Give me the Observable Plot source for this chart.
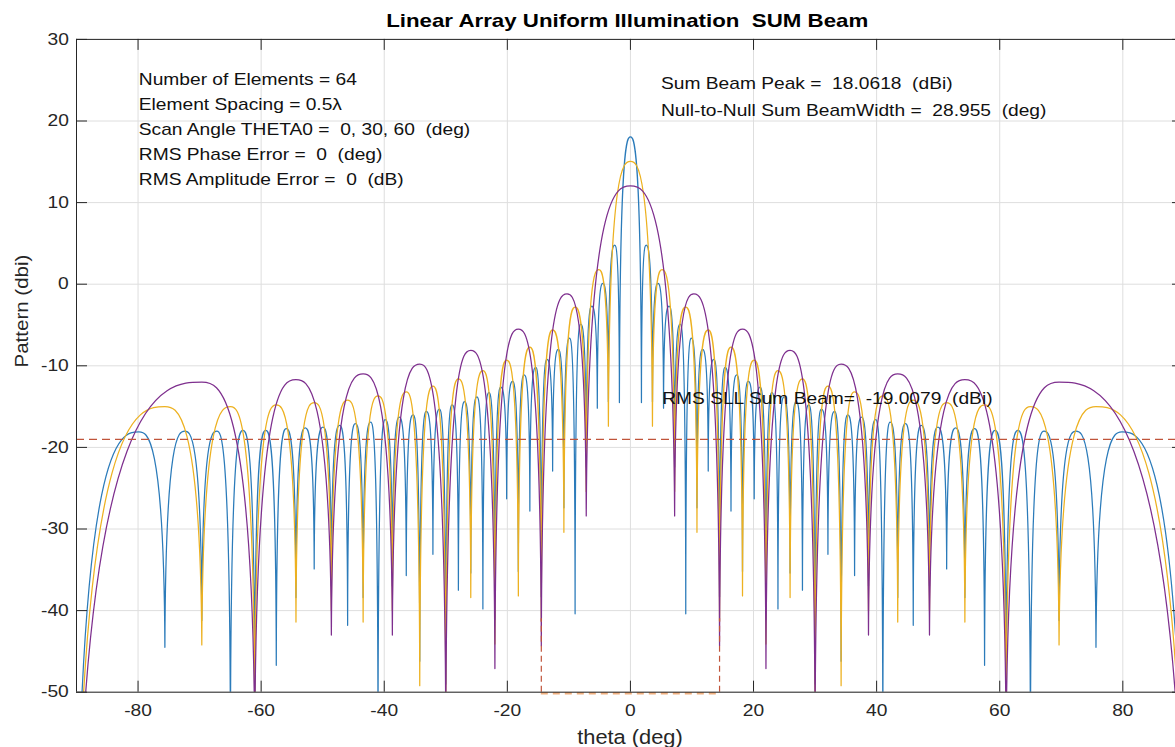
<!DOCTYPE html>
<html><head><meta charset="utf-8">
<script src="https://cdn.jsdelivr.net/npm/d3@7"></script>
<script src="https://cdn.jsdelivr.net/npm/@observablehq/plot@0.6"></script>
<style>html,body{margin:0;padding:0;background:#fff;} #chart svg{display:block;}</style>
</head><body><div id="chart"></div>
<script>
// ---- tick values ----
const xTicks = [-80, -60, -40, -20, 0, 20, 40, 60, 80];
const yTicks = [-50, -40, -30, -20, -10, 0, 10, 20, 30];

// ---- 64 elements (blue): alternating null / lobe peak ----
const blueTheta = [-90, -79.86, -75.64, -72.40, -69.64, -67.21, -64.99, -62.96, -61.04, -59.25, -57.54, -55.91, -54.34, -52.84, -51.38, -49.96, -48.59, -47.25, -45.95, -44.68, -43.43, -42.21, -41.01, -39.84, -38.68, -37.55, -36.42, -35.32, -34.23, -33.15, -32.09, -31.04, -30.00, -28.97, -27.95, -26.94, -25.94, -24.95, -23.97, -22.99, -22.02, -21.06, -20.11, -19.15, -18.21, -17.27, -16.34, -15.40, -14.48, -13.55, -12.64, -11.72, -10.81, -9.90, -8.99, -8.08, -7.18, -6.28, -5.38, -4.48, -3.58, -2.56, -1.79, 0, 1.79, 2.56, 3.58, 4.48, 5.38, 6.28, 7.18, 8.08, 8.99, 9.90, 10.81, 11.72, 12.64, 13.55, 14.48, 15.40, 16.34, 17.27, 18.21, 19.15, 20.11, 21.06, 22.02, 22.99, 23.97, 24.95, 25.94, 26.94, 27.95, 28.97, 30.00, 31.04, 32.09, 33.15, 34.23, 35.32, 36.42, 37.55, 38.68, 39.84, 41.01, 42.21, 43.43, 44.68, 45.95, 47.25, 48.59, 49.96, 51.38, 52.84, 54.34, 55.91, 57.54, 59.25, 61.04, 62.96, 64.99, 67.21, 69.64, 72.40, 75.64, 79.86, 90];
const blueDb = [-80, -18.1, -44.5, -18.0, -41.2, -18.0, -56, -17.9, -50, -17.9, -46.7, -17.7, -38.4, -17.6, -34.9, -17.5, -37.0, -17.3, -41.8, -17.1, -38.4, -16.9, -56, -16.6, -37.0, -16.3, -35.7, -16.0, -46.2, -15.6, -33.1, -15.3, -49, -14.8, -37.5, -14.4, -35.4, -13.8, -39.8, -13.3, -41.1, -12.6, -26.3, -11.9, -35.2, -11.1, -27.8, -10.2, -38.3, -9.2, -22.9, -8.0, -27.4, -6.6, -40.4, -4.9, -22.4, -2.7, -15.2, 0.1, -14.4, 4.8, -14.5, 18.06, -14.5, 4.8, -14.4, 0.1, -15.2, -2.7, -22.4, -4.9, -40.4, -6.6, -27.4, -8.0, -22.9, -9.2, -38.3, -10.2, -27.8, -11.1, -35.2, -11.9, -26.3, -12.6, -41.1, -13.3, -39.8, -13.8, -35.4, -14.4, -37.5, -14.8, -49, -15.3, -33.1, -15.6, -46.2, -16.0, -35.7, -16.3, -37.0, -16.6, -56, -16.9, -38.4, -17.1, -41.8, -17.3, -37.0, -17.5, -34.9, -17.6, -38.4, -17.7, -46.7, -17.9, -50, -17.9, -56, -18.0, -41.2, -18.0, -44.5, -18.1, -80];

// ---- 32 elements (yellow) ----
const yellowTheta = [-90, -75.64, -69.64, -64.99, -61.04, -57.54, -54.34, -51.38, -48.59, -45.95, -43.43, -41.01, -38.68, -36.42, -34.23, -32.09, -30.00, -27.95, -25.94, -23.97, -22.02, -20.11, -18.21, -16.34, -14.48, -12.64, -10.81, -8.99, -7.18, -5.13, -3.58, 0, 3.58, 5.13, 7.18, 8.99, 10.81, 12.64, 14.48, 16.34, 18.21, 20.11, 22.02, 23.97, 25.94, 27.95, 30.00, 32.09, 34.23, 36.42, 38.68, 41.01, 43.43, 45.95, 48.59, 51.38, 54.34, 57.54, 61.04, 64.99, 69.64, 75.64, 90];
const yellowDb = [-80, -15.0, -44.2, -15.0, -53, -14.8, -41.4, -14.5, -40, -14.2, -41.4, -13.7, -40, -13.2, -49.2, -12.5, -52, -11.6, -38.4, -10.6, -44.1, -9.3, -38.2, -7.7, -41.3, -5.6, -30.4, -2.8, -25.4, 1.8, -17.4, 15.05, -17.4, 1.8, -25.4, -2.8, -30.4, -5.6, -41.3, -7.7, -38.2, -9.3, -44.1, -10.6, -38.4, -11.6, -52, -12.5, -49.2, -13.2, -40, -13.7, -41.4, -14.2, -40, -14.5, -41.4, -14.8, -53, -15.0, -44.2, -15.0, -80];

// ---- 16 elements (purple) ----
const purpleTheta = [-90, -69.64, -61.04, -54.34, -48.59, -43.43, -38.68, -34.23, -30.00, -25.94, -22.02, -18.21, -14.48, -10.30, -7.18, 0, 7.18, 10.30, 14.48, 18.21, 22.02, 25.94, 30.00, 34.23, 38.68, 43.43, 48.59, 54.34, 61.04, 69.64, 90];
const purpleDb = [-80, -12.0, -56, -11.7, -43, -11.0, -43, -9.8, -55, -8.1, -47.1, -5.5, -44.3, -1.2, -28.4, 12.04, -28.4, -1.2, -44.3, -5.5, -47.1, -8.1, -55, -9.8, -43, -11.0, -43, -11.7, -56, -12.0, -80];

// ---- reference lines ----
const rmsSll = [-19.0079];
const nullEdges = [-14.48, 14.48];
const nullMarkDb = [-50, -41];

// ---- texts ----
const titleText = "Linear Array Uniform Illumination  SUM Beam";
const leftNotes = ["Number of Elements = 64", "Element Spacing = 0.5\u03bb", "Scan Angle THETA0 =  0, 30, 60  (deg)", "RMS Phase Error =  0  (deg)", "RMS Amplitude Error =  0  (dB)"];
const rightNotes = ["Sum Beam Peak =  18.0618  (dBi)", "Null-to-Null Sum BeamWidth =  28.955  (deg)"];
const sllNote = "RMS SLL Sum Beam=  -19.0079  (dBi)";
const xLabel = "theta (deg)";
const yLabel = "Pattern (dbi)";

const toRows = (th, db) => th.map((t, i) => ({theta: t, db: db[i]}));
const blue = toRows(blueTheta, blueDb);
const yellow = toRows(yellowTheta, yellowDb);
const purple = toRows(purpleTheta, purpleDb);

// curve: points alternate null, peak, null, ... ; draws rounded lobe arches with sharp nulls
function lobeCurve(context) {
  let pts = [];
  return {
    areaStart() {}, areaEnd() {},
    lineStart() { pts = []; },
    point(x, y) { pts.push([+x, +y]); },
    lineEnd() {
      if (!pts.length) return;
      context.moveTo(pts[0][0], pts[0][1]);
      for (let i = 0; i + 1 < pts.length; i++) {
        const [x0, y0] = pts[i], [x1, y1] = pts[i + 1];
        const w = x1 - x0;
        if (i % 2 === 0) context.bezierCurveTo(x0 + 0.04 * w, y1, x1 - 0.3 * w, y1, x1, y1);
        else context.bezierCurveTo(x0 + 0.3 * w, y0, x1 - 0.04 * w, y0, x1, y1);
      }
    }
  };
}

const W = 1175, H = 747, ML = 76, MR = 0, MT = 38.9, MB = 55.3;
const FW = W - ML - MR, FH = H - MT - MB;
const ink = "#262626";
const lineOpts = {x: "theta", y: "db", curve: lobeCurve, strokeWidth: 1.25, clip: true};

const svg = Plot.plot({
  width: W, height: H,
  marginLeft: ML, marginRight: MR, marginTop: MT, marginBottom: MB,
  x: {domain: [-90, 88.56]},
  y: {domain: [-50, 30]},
  style: {fontFamily: "'Liberation Sans', Arial, sans-serif", fontSize: "16px", color: ink, background: "#fff"},
  marks: [
    Plot.gridX(xTicks, {stroke: "#dedede", strokeOpacity: 1}),
    Plot.gridY(yTicks, {stroke: "#dedede", strokeOpacity: 1}),
    Plot.line(blue, {...lineOpts, stroke: "#2b7bba"}),
    Plot.line(yellow, {...lineOpts, stroke: "#EDB120"}),
    Plot.line(purple, {...lineOpts, stroke: "#7E2F8E"}),
    Plot.ruleY(rmsSll, {stroke: "#c0543a", strokeWidth: 1.2, strokeDasharray: "8,5"}),
    Plot.ruleX(nullEdges, {y1: nullMarkDb[0], y2: nullMarkDb[1], stroke: "#c0543a", strokeWidth: 1.2, strokeDasharray: "6,4"}),
    Plot.ruleY([nullMarkDb[0]], {x1: nullEdges[0], x2: nullEdges[1], stroke: "#f0b080", strokeWidth: 2.5, strokeDasharray: "7,5", dy: 1}),
    // box and inward ticks
    Plot.ruleX([-90], {stroke: ink}),
    Plot.ruleY([-50, 30], {stroke: ink}),
    Plot.tickY(yTicks, {stroke: ink, insetRight: FW - 11}),
    Plot.tickY(yTicks, {stroke: ink, insetLeft: FW - 3}),
    Plot.tickX(xTicks, {stroke: ink, insetTop: FH - 11}),
    Plot.tickX(xTicks, {stroke: ink, insetBottom: FH - 11}),
    Plot.axisX(xTicks, {tickSize: 0, tickPadding: 12.9, tickFormat: d => String(d), label: null, fontSize: 16, fill: ink}),
    Plot.axisY(yTicks, {tickSize: 0, tickPadding: 7.7, tickFormat: d => String(d), label: null, fontSize: 16, fill: ink}),
    Plot.text([xLabel], {frameAnchor: "bottom", dx: 4, dy: 45.3, lineAnchor: "middle", fontSize: 19.5, fill: ink}),
    Plot.text([yLabel], {frameAnchor: "left", dx: -54.6, dy: 1.7, rotate: -90, lineAnchor: "middle", fontSize: 19, fill: ink}),
    Plot.text([titleText], {frameAnchor: "top", dx: 1.2, dy: -18.5, lineAnchor: "middle", fontWeight: "bold", fontSize: 17.5, fill: "#000"}),
    Plot.text([leftNotes.join("\n")], {frameAnchor: "top-left", dx: 62.3, dy: 27.3, lineAnchor: "top", textAnchor: "start", lineHeight: 25.1 / 16, fontSize: 16, fill: "#111"}),
    Plot.text([rightNotes.join("\n")], {frameAnchor: "top-left", dx: 584.5, dy: 31.3, lineAnchor: "top", textAnchor: "start", lineHeight: 26.4 / 16, fontSize: 16, fill: "#111"}),
    Plot.text([sllNote], {frameAnchor: "top-left", dx: 585.7, dy: 359.4, lineAnchor: "middle", textAnchor: "start", fontSize: 16, fill: "#111"})
  ]
});

// text in the reference is horizontally stretched; widen glyphs about their anchors
const stretch = new Map([[titleText, 1.274], [xLabel, 1.12], [yLabel, 1.08]]);
svg.querySelectorAll("text").forEach(el => {
  const sx = stretch.get(el.textContent) || 1.2;
  const t = el.getAttribute("transform") || "";
  const xa = el.getAttribute("x");
  const x = xa && /^-?[\d.]+$/.test(xa) ? +xa : 0;
  el.setAttribute("transform", `${t} translate(${x},0) scale(${sx},1) translate(${-x},0)`);
});
document.getElementById("chart").appendChild(svg);
</script></body></html>
